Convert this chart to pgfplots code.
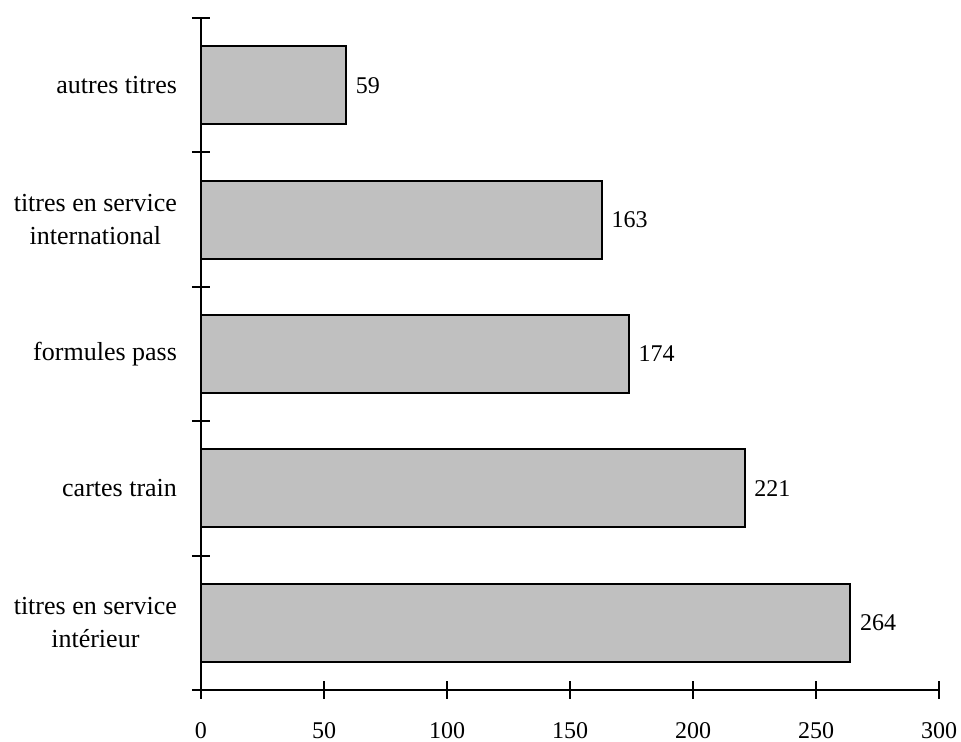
\documentclass[border=0pt]{standalone}
\usepackage{fontspec}
\setmainfont{Liberation Serif}
\usepackage{pgfplots}
\pgfplotsset{compat=1.18}
\definecolor{barfill}{HTML}{C0C0C0}
\begin{document}
\begin{tikzpicture}
\begin{axis}[
  scale only axis,
  width=369pt, height=336pt,
  xbar,
  bar width=39pt,
  xmin=0, xmax=300,
  ymin=-0.5, ymax=4.5,
  axis lines*=left,
  axis line style={line width=1pt, -},
  xtick={0,50,...,300},
  ytick={0,1,2,3,4},
  yticklabels={{titres en service\\intérieur},{cartes train},{formules pass},{titres en service\\international},{autres titres}},
  minor ytick={-0.5,0.5,1.5,2.5,3.5,4.5},
  tick align=center,
  major tick length=9pt,
  minor tick length=9pt,
  every tick/.style={line width=1pt, black},
  y tick style={draw=none},
  minor y tick style={draw=black, line width=1pt},
  yticklabel style={align=center, font=\fontsize{13}{16.5}\selectfont, xshift=-4pt},
  xticklabel style={font=\fontsize{12}{14}\selectfont, yshift=-8pt},
  /pgf/number format/assume math mode=true,
  nodes near coords,
  nodes near coords style={anchor=west, font=\fontsize{12}{14}\selectfont, xshift=1pt},
  clip=false,
]
\addplot[fill=barfill, draw=black, line width=1pt] coordinates {
  (264,0) (221,1) (174,2) (163,3) (59,4)
};
\end{axis}
\pgfresetboundingbox
\path[use as bounding box] (-100.5pt,-26pt) rectangle (380pt,345pt);
\end{tikzpicture}
\end{document}
